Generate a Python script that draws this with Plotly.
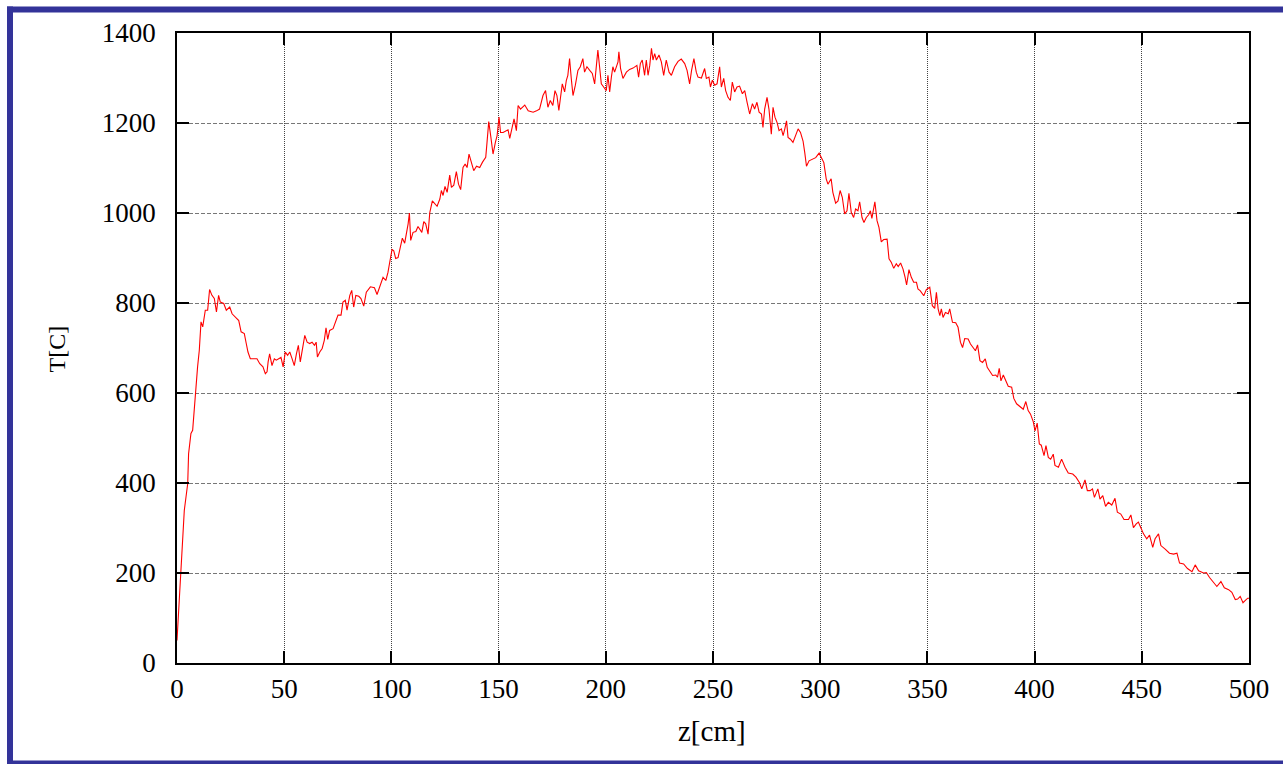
import plotly.graph_objects as go

z_cm = [
    0, 0.8, 1.6, 2.3, 2.8, 3.4, 4.2, 5.0, 5.4, 6.5, 7.3, 7.8, 8.2, 8.9, 9.6, 10.4,
    11.2, 12.0, 12.4, 13.2, 14.3, 15.2, 16.3, 17.4, 18.4, 19.4, 20.2, 21.8, 23.0,
    24.6, 25.7, 27.2, 28.8, 29.9, 31.4, 32.3, 33.1, 34.2, 35.8, 37.3, 38.6, 40.1,
    41.2, 42.0, 42.5, 43.2, 44.3, 45.4, 46.3, 47.4, 48.5, 49.5, 50.5, 51.6, 52.6,
    53.7, 54.7, 55.7, 56.6, 57.5, 58.5, 59.6, 60.7, 61.9, 63.0, 64.1, 64.9, 65.5,
    66.6, 67.7, 68.7, 69.5, 70.3, 71.2, 72.8, 73.9, 75.1, 76.5, 77.4, 78.5, 79.3,
    80.6, 81.5, 82.4, 83.4, 84.8, 85.8, 87.1, 88.3, 90.2, 92.1, 93.3, 94.6,
    96.1, 97.4, 98.4, 99.2, 100.3, 101.1, 102.0, 103.1, 104.2, 105.1, 106.2, 107.0,
    107.8, 108.4, 109.0, 110.1, 111.4, 112.4, 113.2, 114.2, 115.1, 116.0, 117.1,
    117.9, 119.1, 120.2, 121.3, 122.6, 123.3, 124.1, 125.0, 126.0, 127.2, 128.0,
    129.1, 130.3, 131.3, 132.3, 133.4, 134.4, 135.3, 136.2, 137.3, 138.4, 139.7,
    141.2, 142.5, 144.0, 144.6, 145.4, 146.3, 147.4, 148.5, 149.3, 150.2, 150.9,
    152.1, 153.7, 154.4, 155.2, 156.3, 157.2, 158.3, 159.1, 160.2, 162.2, 163.8,
    166.1, 167.7, 169.1, 170.7, 171.9, 173.0, 174.1, 175.3, 176.3, 177.2, 178.1,
    178.8, 179.7, 180.8, 181.6, 182.3, 183.1, 183.9, 184.7, 185.8, 187.0, 188.1,
    189.3, 190.1, 191.2, 192.5, 193.7, 194.8, 195.6, 196.3, 197.1, 197.9, 199.0,
    200.2, 201.0, 201.8, 202.6, 203.3, 204.1, 204.9, 205.7, 206.1, 206.9, 208.0,
    209.6, 211.1, 212.7, 214.5, 215.3, 216.1, 217.0, 218.1, 218.9, 219.7, 220.5,
    221.3, 222.0, 222.8, 223.6, 224.8, 225.9, 227.0, 228.2, 229.5, 230.6, 232.1,
    233.7, 235.2, 236.8, 237.9, 239.1, 240.0, 241.1, 242.2, 243.0, 244.6, 246.1,
    246.9, 248.1, 248.8, 249.7, 250.8, 251.9, 253.1, 253.9, 255.0, 255.9, 257.0,
    258.1, 259.0, 260.1, 261.2, 262.4, 263.7, 264.8, 265.9, 267.1, 268.4, 269.4,
    270.5, 271.5, 272.6, 273.3, 274.1, 275.2, 276.1, 277.2, 278.0, 278.9, 279.9,
    280.8, 281.9, 282.7, 283.5, 284.3, 285.0, 286.1, 287.3, 288.6, 289.7, 290.8,
    292.0, 292.8, 293.6, 294.8, 296.4, 297.9, 299.5, 300.6, 301.7, 302.8, 303.6,
    305.1, 305.9, 307.2, 308.3, 309.3, 310.3, 311.4, 312.5, 313.4, 314.5, 315.6,
    316.5, 317.6, 318.4, 319.5, 320.4, 321.5, 322.6, 323.4, 324.1, 324.9, 325.5,
    326.5, 327.4, 328.5, 329.6, 331.2, 332.1, 333.2, 334.3, 335.5, 336.4, 337.5,
    338.6, 339.6, 340.3, 341.4, 342.5, 343.6, 344.9, 345.6, 346.7, 348.3, 349.5,
    351.1, 352.3, 353.4, 354.2, 355.0, 355.8, 356.5, 357.3, 358.4, 359.7, 360.4,
    361.7, 363.2, 364.3, 365.4, 366.4, 367.4, 369.0, 370.1, 371.3, 372.4, 373.4,
    374.5, 375.7, 377.0, 377.9, 379.1, 380.4, 381.9, 382.7, 383.5, 384.3, 385.4,
    386.6, 387.7, 389.3, 390.3, 391.6, 393.1, 394.7, 395.9, 397.0, 398.1, 399.4,
    400.2, 401.2, 402.2, 403.1, 404.4, 405.3, 406.4, 407.5, 408.7, 409.5, 411.1,
    412.6, 414.2, 415.7, 417.8, 419.3, 420.9, 422.0, 423.5, 424.6, 425.9, 427.0,
    427.9, 428.7, 429.5, 430.5, 431.8, 433.1, 434.4, 436.0, 437.5, 438.6, 440.2,
    441.7, 443.8, 444.9, 446.1, 447.4, 448.4, 449.5, 450.8, 452.3, 453.6, 455.1,
    456.2, 457.8, 458.9, 460.9, 462.9, 464.8, 466.4, 467.6, 469.5, 471.3, 473.4,
    474.9, 476.5, 478.8, 480.1, 481.6, 483.5, 485.0, 486.9, 488.5, 490.5, 492.0,
    493.6, 494.7, 495.9, 497.2, 498.3, 499.4, 500.0,
]
T_c = [
    50, 124, 199, 236, 287, 339, 369, 399, 465, 510, 517, 547, 584, 617, 658, 695,
    758, 747, 761, 784, 784, 830, 817, 810, 780, 817, 802, 799, 784,
    791, 776, 769, 761, 736, 732, 710, 691, 676, 676, 676, 665, 658,
    643, 647, 669, 687, 661, 676, 673, 676, 679, 658, 691, 684, 691,
    676, 661, 687, 706, 669, 695, 728, 713, 710, 713, 706, 713, 680,
    691, 699, 717, 745, 719, 739, 743, 758, 773, 773, 802, 806, 784,
    817, 828, 791, 817, 815, 810, 793, 824, 836, 834, 819, 839,
    857, 850, 868, 890, 919, 916, 899, 901, 927, 944, 933, 953,
    976, 1000, 939, 957, 959, 970, 964, 957, 981, 976, 953,
    1001, 1027, 1022, 1015, 1031, 1050, 1039, 1059, 1046, 1084, 1057,
    1062, 1092, 1064, 1052, 1101, 1109, 1101, 1131, 1109, 1094, 1104,
    1101, 1113, 1124, 1157, 1203, 1172, 1131, 1157, 1172, 1213, 1179,
    1179, 1183, 1185, 1166, 1190, 1209, 1183, 1239, 1231, 1240, 1227,
    1224, 1227, 1231, 1261, 1272, 1235, 1250, 1239, 1272, 1261, 1228,
    1254, 1287, 1269, 1295, 1306, 1343, 1299, 1261, 1284, 1317, 1325,
    1343, 1313, 1325, 1317, 1310, 1287, 1336, 1362, 1325, 1287, 1280,
    1272, 1306, 1269, 1302, 1325, 1313, 1325, 1336, 1358, 1321, 1299,
    1313, 1319, 1322, 1328, 1302, 1332, 1340, 1306, 1340, 1306, 1328,
    1366, 1340, 1354, 1340, 1351, 1336, 1306, 1340, 1313, 1306, 1325,
    1337, 1342, 1332, 1317, 1287, 1317, 1343, 1313, 1302, 1300, 1321,
    1299, 1302, 1280, 1295, 1284, 1287, 1325, 1280, 1299, 1272, 1257,
    1250, 1291, 1269, 1280, 1282, 1265, 1272, 1246, 1220, 1243, 1231,
    1246, 1224, 1220, 1190, 1231, 1257, 1231, 1175, 1235, 1213, 1201,
    1183, 1187, 1172, 1187, 1205, 1168, 1164, 1157, 1172, 1187, 1179,
    1160, 1134, 1104, 1116, 1119, 1123, 1133, 1123, 1112, 1076, 1064,
    1076, 1046, 1022, 1027, 1050, 1035, 998, 1005, 1044, 1001, 990,
    1009, 1005, 1025, 990, 979, 990, 996, 1005, 988, 1009, 1025,
    983, 968, 936, 941, 942, 898, 890, 877, 887, 881, 889,
    876, 857, 840, 874, 857, 846, 846, 831, 827, 816, 830,
    835, 794, 788, 824, 787, 772, 787, 768, 779, 776, 787,
    757, 756, 746, 713, 701, 721, 720, 709, 701, 694, 707,
    672, 668, 676, 657, 647, 639, 640, 635, 655, 627, 640,
    627, 615, 613, 588, 576, 570, 564, 581, 561, 553, 536,
    516, 533, 487, 484, 461, 483, 457, 453, 464, 439, 435,
    453, 435, 422, 420, 413, 401, 387, 407, 383, 383, 387,
    368, 379, 387, 364, 372, 348, 357, 351, 366, 335, 331,
    319, 319, 329, 301, 309, 313, 301, 287, 276, 284, 257,
    276, 287, 261, 253, 244, 242, 244, 222, 220, 210, 203,
    218, 205, 200, 201, 190, 178, 170, 181, 167, 163, 157,
    141, 142, 148, 134, 139, 144, 144,
]

x_ticks = [0, 50, 100, 150, 200, 250, 300, 350, 400, 450, 500]
y_ticks = [0, 200, 400, 600, 800, 1000, 1200, 1400]

FONT = "Liberation Serif"

fig = go.Figure()
fig.add_trace(go.Scatter(
    x=z_cm, y=T_c, mode="lines",
    line=dict(color="#ff0000", width=1.1),
    showlegend=False, hoverinfo="x+y",
))

axis_common = dict(
    showline=True, linecolor="black", linewidth=1.5, mirror="ticks",
    ticks="inside", ticklen=12, tickwidth=1.5, tickcolor="black",
    showgrid=True, gridwidth=1, zeroline=False,
    tickfont=dict(family=FONT, size=27, color="black"),
)

fig.update_xaxes(
    range=[0, 500], tickvals=x_ticks, ticktext=[str(v) for v in x_ticks],
    gridcolor="#444444", griddash="1px,1px", ticklabelstandoff=1, **axis_common,
)
fig.update_yaxes(
    range=[0, 1400], tickvals=y_ticks, ticktext=[str(v) for v in y_ticks],
    gridcolor="#777777", griddash="4px,2px", ticklabelstandoff=14, **axis_common,
)

W, H = 1283, 764
L, R, Tm, B = 177, 34, 33, 101
pw, ph = W - L - R, H - Tm - B

def px2x(page_px):
    return (page_px - L) / pw

def py2y(page_py):
    return (H - B - page_py) / ph

frame = dict(color="#333399", width=6)
fig.update_layout(
    width=W, height=H,
    margin=dict(l=L, r=R, t=Tm, b=B),
    paper_bgcolor="white", plot_bgcolor="white",
    font=dict(family=FONT, size=27, color="black"),
    shapes=[
        dict(type="line", xref="paper", yref="paper",
             x0=px2x(10), x1=px2x(10), y0=py2y(767), y1=py2y(6.5), line=frame, layer="below"),
        dict(type="line", xref="paper", yref="paper",
             x0=px2x(7), x1=px2x(1290), y0=py2y(9.5), y1=py2y(9.5), line=frame, layer="below"),
        dict(type="line", xref="paper", yref="paper",
             x0=px2x(7), x1=px2x(1290), y0=py2y(763.5), y1=py2y(763.5), line=frame, layer="below"),
    ],
    annotations=[
        dict(text="z[cm]", xref="paper", yref="paper", x=px2x(711.5), y=py2y(731),
             showarrow=False, xanchor="center", yanchor="middle",
             font=dict(family=FONT, size=29, color="black")),
        dict(text="T[C]", xref="paper", yref="paper", x=px2x(56), y=py2y(349.5),
             showarrow=False, xanchor="center", yanchor="middle", textangle=-90,
             font=dict(family=FONT, size=24, color="black")),
    ],
)

fig.write_html(
    "out.html",
    config={"displayModeBar": False},
    post_script="document.body.style.margin='0';document.body.style.overflow='hidden';",
)
